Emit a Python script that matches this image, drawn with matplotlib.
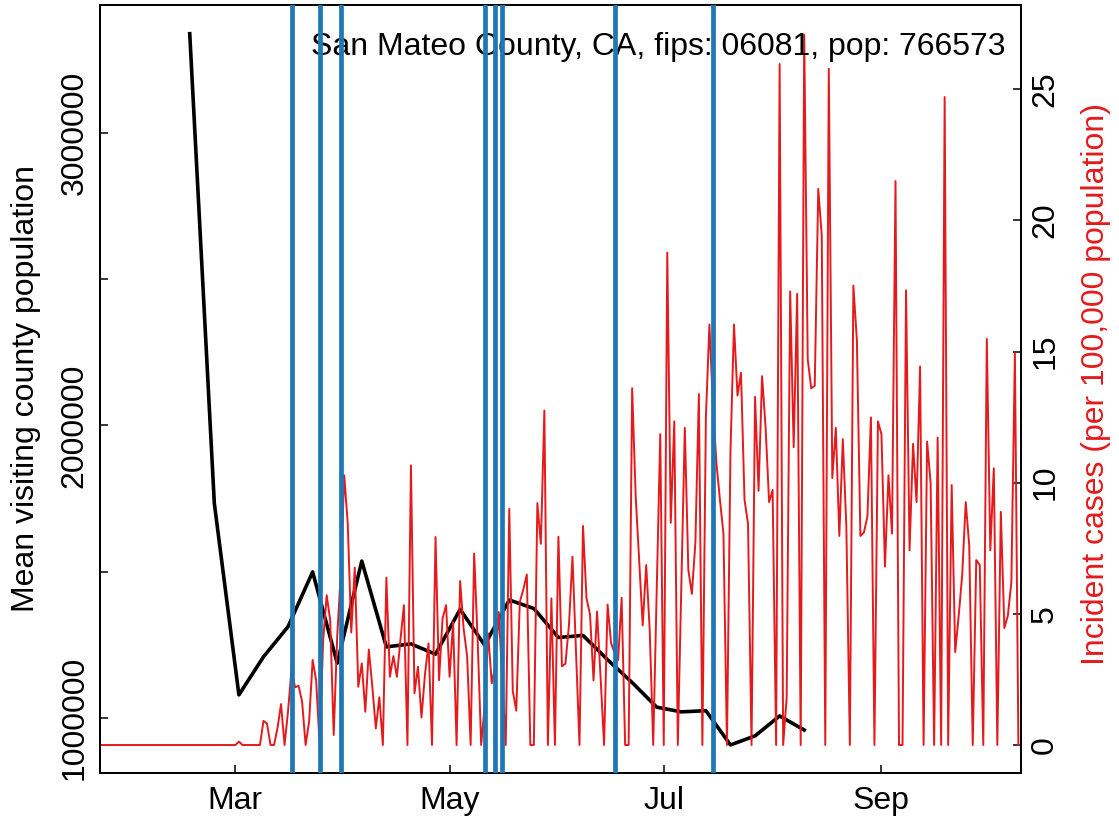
import matplotlib
matplotlib.use("Agg")
import matplotlib.pyplot as plt
import matplotlib.dates as mdates
import matplotlib.ticker as mticker
import numpy as np
import pandas as pd

plt.rcParams['font.family'] = ['Liberation Sans', 'DejaVu Sans']

county_label = "San Mateo County, CA, fips: 06081, pop: 766573"

# weekly mean visiting population (black)
mob_start = "2020-02-17"
mob_values = [3338000, 1734000, 1080000, 1210000, 1313000, 1500000, 1188000,
              1537000, 1244000, 1254000, 1219000, 1372000, 1250000, 1404000,
              1375000, 1276000, 1283000, 1200000, 1122000, 1038000, 1022000,
              1026000, 909000, 940000, 1008000, 960000]

# daily incident cases per 100,000 (red), from Jan 22
case_start = "2020-01-22"
case_values = [
    0, 0, 0, 0, 0, 0, 0, 0, 0, 0,
    0, 0, 0, 0, 0, 0, 0, 0, 0, 0,
    0, 0, 0, 0, 0, 0, 0, 0, 0, 0,
    0, 0, 0, 0, 0, 0, 0, 0, 0,
    # Mar 1 ->
    0, 0.13, 0, 0, 0, 0, 0, 0, 0.92, 0.82,
    0, 0, 0.65, 1.56, 0, 1.3, 2.9, 2.2, 2.26, 1.65,
    0, 0.9, 3.24, 2.47, 0, 4.0, 5.71, 4.76, 0.38, 4.15,
    6.5, 10.28, 8.44, 4.29, 6.76, 2.22, 3.11, 1.27, 3.64, 2.22,
    0.63, 1.82, 0, 6.38, 2.6, 3.39, 2.6, 4.0, 5.33, 0,
    10.66, 1.97, 2.98, 1.05, 2.7, 3.87, 0, 7.93, 2.47, 4.82,
    5.33, 2.6, 4.69, 0, 6.25, 4.44, 3.39, 0, 7.3, 4.0,
    0, 1.5, 4.25, 2.35, 3.0, 5.07, 2.5, 0, 9.0, 2.06,
    1.31, 5.45, 5.93, 6.5, 0, 0, 9.22, 7.67, 12.75, 0,
    5.59, 0, 7.94, 3.0, 3.1, 4.57, 7.18, 3.6, 0, 8.35,
    5.59, 4.98, 2.46, 5.09, 2.6, 0, 5.35, 3.89, 3.5, 3.24,
    5.61, 0, 0, 13.6, 9.5, 7.0, 4.56, 6.86, 4.38, 0,
    6.0, 11.85, 0, 18.77, 8.47, 12.34, 0, 6.0, 12.09, 6.68,
    5.76, 7.69, 13.38, 0, 12.49, 16.03, 13.0, 10.74, 9.35, 8.06,
    0, 11.2, 16.03, 13.32, 14.19, 9.35, 8.43, 0, 13.27, 9.69,
    14.06, 12.12, 9.26, 9.72, 0, 25.96, 0, 1.79, 17.29, 11.35,
    17.2, 0, 27.07, 14.7, 13.6, 13.69, 21.2, 19.41, 0, 25.78,
    10.18, 12.09, 7.97, 11.66, 8.34, 0, 17.51, 15.44, 7.97, 8.1,
    8.71, 12.49, 0, 12.34, 11.85, 6.8, 10.28, 8.06, 21.5, 0,
    0, 17.33, 7.42, 11.48, 9.26, 14.43, 0, 11.57, 10.0, 0,
    11.72, 0, 24.7, 0, 9.91, 3.54, 4.93, 6.49, 9.26, 7.6,
    0, 7.05, 6.86, 0, 15.48, 7.42, 10.55, 0, 8.89, 4.46,
    4.93, 6.22, 14.93, 0,
]

policy_dates = ["2020-03-17", "2020-03-25", "2020-03-31", "2020-05-11",
                "2020-05-14", "2020-05-16", "2020-06-17", "2020-07-15"]

mob_dates = pd.date_range(mob_start, periods=len(mob_values), freq="7D")
case_dates = pd.date_range(case_start, periods=len(case_values), freq="D")

red = "#E41A1C"
blue = "#1F77B4"
fs = 23

fig = plt.figure(figsize=(11.19, 8.22), dpi=100)
ax = fig.add_axes([99.5 / 1119, 1 - 773 / 822, 921 / 1119, 768 / 822])
ax2 = ax.twinx()

ax.plot(mob_dates, mob_values, color="black", lw=2.6, zorder=2)
ax2.plot(case_dates, case_values, color=red, lw=1.4, zorder=2)
for d in policy_dates:
    ax2.axvline(pd.Timestamp(d), color=blue, lw=3.4, zorder=4)

mar1 = pd.Timestamp("2020-03-01")
ax.set_xlim(mar1 - pd.Timedelta(days=38.7), mar1 + pd.Timedelta(days=223.6))
ax.set_ylim(813200, 3436000)
ax2.set_ylim(-1.067, 28.21)

ax.xaxis.set_major_locator(mdates.MonthLocator(bymonth=[3, 5, 7, 9]))
ax.xaxis.set_major_formatter(mdates.DateFormatter("%b"))
ax.yaxis.set_major_locator(mticker.MultipleLocator(500000))
ax.yaxis.set_major_formatter(mticker.FuncFormatter(
    lambda v, p: "%d" % v if v % 1000000 == 0 else ""))
ax2.yaxis.set_major_locator(mticker.MultipleLocator(5))

ax.tick_params(axis="x", direction="in", length=6, width=1.1, labelsize=fs, pad=9)
ax.tick_params(axis="y", direction="in", length=6, width=1.1, labelsize=fs,
               pad=7, labelrotation=90)
ax2.tick_params(axis="y", direction="in", length=6, width=1.1, labelsize=fs,
                pad=7, labelrotation=90)
for lab in ax.get_yticklabels():
    lab.set_va("center")
for lab in ax2.get_yticklabels():
    lab.set_va("center")

for a in (ax, ax2):
    for s in a.spines.values():
        s.set_linewidth(1.3)

ax2.text(0.9832, 0.935, county_label, transform=ax2.transAxes, ha="right",
         va="baseline", fontsize=fs, zorder=3)

fig.text(26 / 1119, 1 - 389 / 822, "Mean visiting county population",
         rotation=90, ha="center", va="center", fontsize=fs)
fig.text(1096 / 1119, 1 - 384 / 822, "Incident cases (per 100,000 population)",
         rotation=90, ha="center", va="center", fontsize=fs, color=red)

fig.savefig("out.png", dpi=100)
